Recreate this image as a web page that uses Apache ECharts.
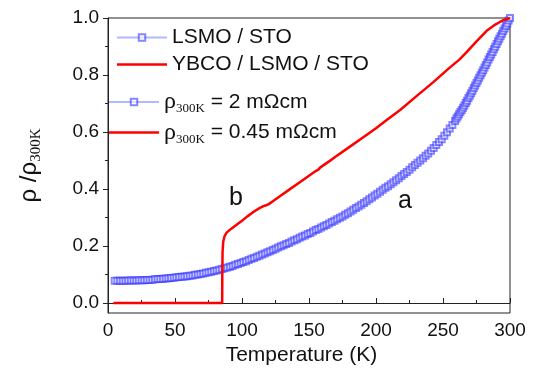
<!DOCTYPE html>
<html><head><meta charset="utf-8">
<script src="https://cdn.jsdelivr.net/npm/echarts@6/dist/echarts.min.js"></script>
<style>html,body{margin:0;padding:0;background:#fff}#c{width:533px;height:371px}</style>
</head><body><div id="c"></div>
<script>
// ---- data ----
const seriesNames = ['LSMO / STO', 'YBCO / LSMO / STO'];
const noteNames = ['rho2', 'rho045'];
const xTicks = [0, 50, 100, 150, 200, 250, 300];
const yTicks = [0.0, 0.2, 0.4, 0.6, 0.8, 1.0];
const yMinorTicks = [0.1, 0.3, 0.5, 0.7, 0.9];

// LSMO / STO: T = 5,7,...,199 (step 2 K)
const lsmoLowStart = 5, lsmoLowStep = 2;
const lsmoLowV = [
  .078,.078,.078,.078,.078,.079,.079,.079,.079,.080,
  .080,.080,.081,.081,.082,.083,.084,.084,.085,.086,
  .087,.088,.089,.090,.091,.092,.093,.094,.096,.097,
  .099,.100,.102,.104,.106,.108,.110,.112,.114,.117,
  .119,.122,.125,.127,.130,.134,.137,.140,.144,.147,
  .151,.155,.158,.162,.166,.170,.174,.178,.182,.186,
  .190,.195,.199,.203,.207,.211,.216,.220,.224,.229,
  .233,.237,.242,.246,.251,.256,.260,.265,.269,.274,
  .279,.284,.289,.294,.299,.304,.310,.315,.321,.327,
  .333,.339,.345,.351,.357,.364,.370,.377
];
// LSMO / STO: T = 201,203,...,259 (step 2 K)
const lsmoMidStart = 201, lsmoMidStep = 2;
const lsmoMidV = [
  .383,.390,.397,.404,.410,.417,.424,.431,.438,.446,
  .453,.460,.468,.476,.484,.492,.500,.508,.517,.525,
  .534,.544,.554,.565,.575,.587,.599,.612,.625,.639
];
// LSMO / STO: T = 260,...,300 (step 1 K)
const lsmoHighStart = 260, lsmoHighStep = 1;
const lsmoHighV = [
  .647,.654,.662,.670,.677,.685,.693,.702,.710,.719,
  .727,.736,.745,.754,.763,.772,.781,.790,.799,.808,
  .817,.826,.835,.844,.854,.863,.872,.881,.890,.899,
  .909,.918,.927,.936,.945,.954,.963,.972,.981,.991,
  1.000
];

// YBCO / LSMO / STO
const ybcoT = [4, 20, 40, 60, 85.2, 85.3, 85.5, 86, 87, 88.5, 92, 96, 100, 104, 108, 112, 116, 118, 120, 123, 128, 135, 145, 155, 157, 158.5, 165, 170, 180, 190, 200, 208, 218, 230, 243, 255, 262, 268, 275, 282.6, 288, 292.5, 296, 300];
const ybcoV = [0, 0, 0, 0, 0, 0.10, 0.18, 0.215, 0.235, 0.247, 0.261, 0.275, 0.289, 0.304, 0.318, 0.330, 0.340, 0.343, 0.347, 0.357, 0.374, 0.397, 0.430, 0.463, 0.468, 0.476, 0.497, 0.514, 0.547, 0.580, 0.613, 0.642, 0.677, 0.725, 0.776, 0.826, 0.853, 0.882, 0.918, 0.955, 0.974, 0.986, 0.994, 1.0];

// ---- build ----
const lsmoData = [];
lsmoLowV.forEach((v, i) => lsmoData.push([lsmoLowStart + i * lsmoLowStep, v]));
lsmoMidV.forEach((v, i) => lsmoData.push([lsmoMidStart + i * lsmoMidStep, v]));
lsmoHighV.forEach((v, i) => lsmoData.push([lsmoHighStart + i * lsmoHighStep, v]));
const ybcoData = ybcoT.map((t, i) => [t, ybcoV[i]]);

const SANS = 'Liberation Sans, Arial, sans-serif';
const SERIF = 'Liberation Serif, Times New Roman, serif';
const BLUE = '#3535ff';
const RED = '#ff0000';
const redIcon = 'path://M0,0h50v2.6h-50z';

function blueStyle() {
  return {
    type: 'line', symbol: 'emptyRect', symbolSize: 6, showSymbol: true,
    itemStyle: { color: BLUE, borderWidth: 1, opacity: 0.6 },
    lineStyle: { color: '#b0b8ff', width: 0.8 }
  };
}
function redStyle() {
  return {
    type: 'line', symbol: 'none', showSymbol: false,
    itemStyle: { color: RED }, lineStyle: { color: RED, width: 2.5 }
  };
}

const chart = echarts.init(document.getElementById('c'), null, { renderer: 'canvas' });
chart.setOption({
  backgroundColor: '#fff',
  animation: false,
  textStyle: { fontFamily: SANS, color: '#111' },
  grid: { left: 108, right: 23, top: 18, bottom: 58, show: true, borderColor: '#222', borderWidth: 1, backgroundColor: 'transparent' },
  xAxis: {
    type: 'value', min: 0, max: 300, interval: 50,
    name: 'Temperature (K)', nameLocation: 'middle', nameGap: 32,
    nameTextStyle: { fontSize: 21, fontFamily: SANS, color: '#111', padding: [0, 15, 0, 0] },
    axisLine: { lineStyle: { color: '#222', width: 1 } },
    axisTick: { inside: true, length: 5, lineStyle: { color: '#222' } },
    minorTick: { show: true, splitNumber: 2, length: 3, lineStyle: { color: '#222' } },
    axisLabel: { fontSize: 19, color: '#111', fontFamily: SANS, margin: 8 },
    splitLine: { show: false }
  },
  yAxis: [{
    type: 'value', min: -0.035, max: 1.0,
    name: '{a|ρ /ρ}{s|300K}', nameLocation: 'middle', nameRotate: 90, nameGap: 64,
    nameTextStyle: { rich: {
      a: { fontSize: 24, fontFamily: SANS, color: '#111' },
      s: { fontSize: 15, fontFamily: SERIF, color: '#111', padding: [14, 0, 0, 0] }
    } },
    axisLine: { lineStyle: { color: '#222', width: 1 } },
    axisTick: { inside: false, length: 5, customValues: yTicks, lineStyle: { color: '#222' } },
    axisLabel: { fontSize: 19, color: '#111', fontFamily: SANS, margin: 9, customValues: yTicks,
      formatter: v => v.toFixed(1) },
    splitLine: { show: false }
  }, {
    type: 'value', min: -0.035, max: 1.0, position: 'left',
    axisLine: { show: false },
    axisTick: { inside: false, length: 3, customValues: yMinorTicks, lineStyle: { color: '#222' } },
    axisLabel: { show: false },
    splitLine: { show: false }
  }],
  legend: [{
    data: [{ name: seriesNames[0] }, { name: seriesNames[1], icon: redIcon }],
    orient: 'vertical', left: 116, top: 27, padding: 0,
    itemWidth: 50, itemHeight: 8, itemGap: 6,
    textStyle: { fontSize: 21, fontFamily: SANS, color: '#111', lineHeight: 20 },
    selectedMode: false
  }, {
    data: [{ name: noteNames[0] }, { name: noteNames[1], icon: redIcon }],
    orient: 'vertical', left: 108, top: 90, padding: 0,
    itemWidth: 50, itemHeight: 8, itemGap: 5,
    selectedMode: false,
    formatter: n => n === 'rho2' ? '{r|ρ}{s|300K}{t| = 2 mΩcm}' : '{r|ρ}{s|300K}{t| = 0.45 mΩcm}',
    textStyle: { fontSize: 21, fontFamily: SANS, color: '#111', rich: {
      r: { fontSize: 24, fontFamily: SERIF, color: '#111' },
      s: { fontSize: 13, fontFamily: SERIF, color: '#111', padding: [14, 0, 0, 0] },
      t: { fontSize: 21, fontFamily: SANS, color: '#111' }
    } }
  }],
  graphic: [
    { type: 'text', left: 229, top: 186, style: { text: 'b', font: '25px ' + SANS, fill: '#111' } },
    { type: 'text', left: 398, top: 189, style: { text: 'a', font: '25px ' + SANS, fill: '#111' } }
  ],
  series: [
    Object.assign({ name: seriesNames[0], data: lsmoData, z: 2 }, blueStyle()),
    Object.assign({ name: seriesNames[1], data: ybcoData, z: 3 }, redStyle()),
    Object.assign({ name: noteNames[0], data: [] }, blueStyle()),
    Object.assign({ name: noteNames[1], data: [] }, redStyle())
  ]
});
</script></body></html>
